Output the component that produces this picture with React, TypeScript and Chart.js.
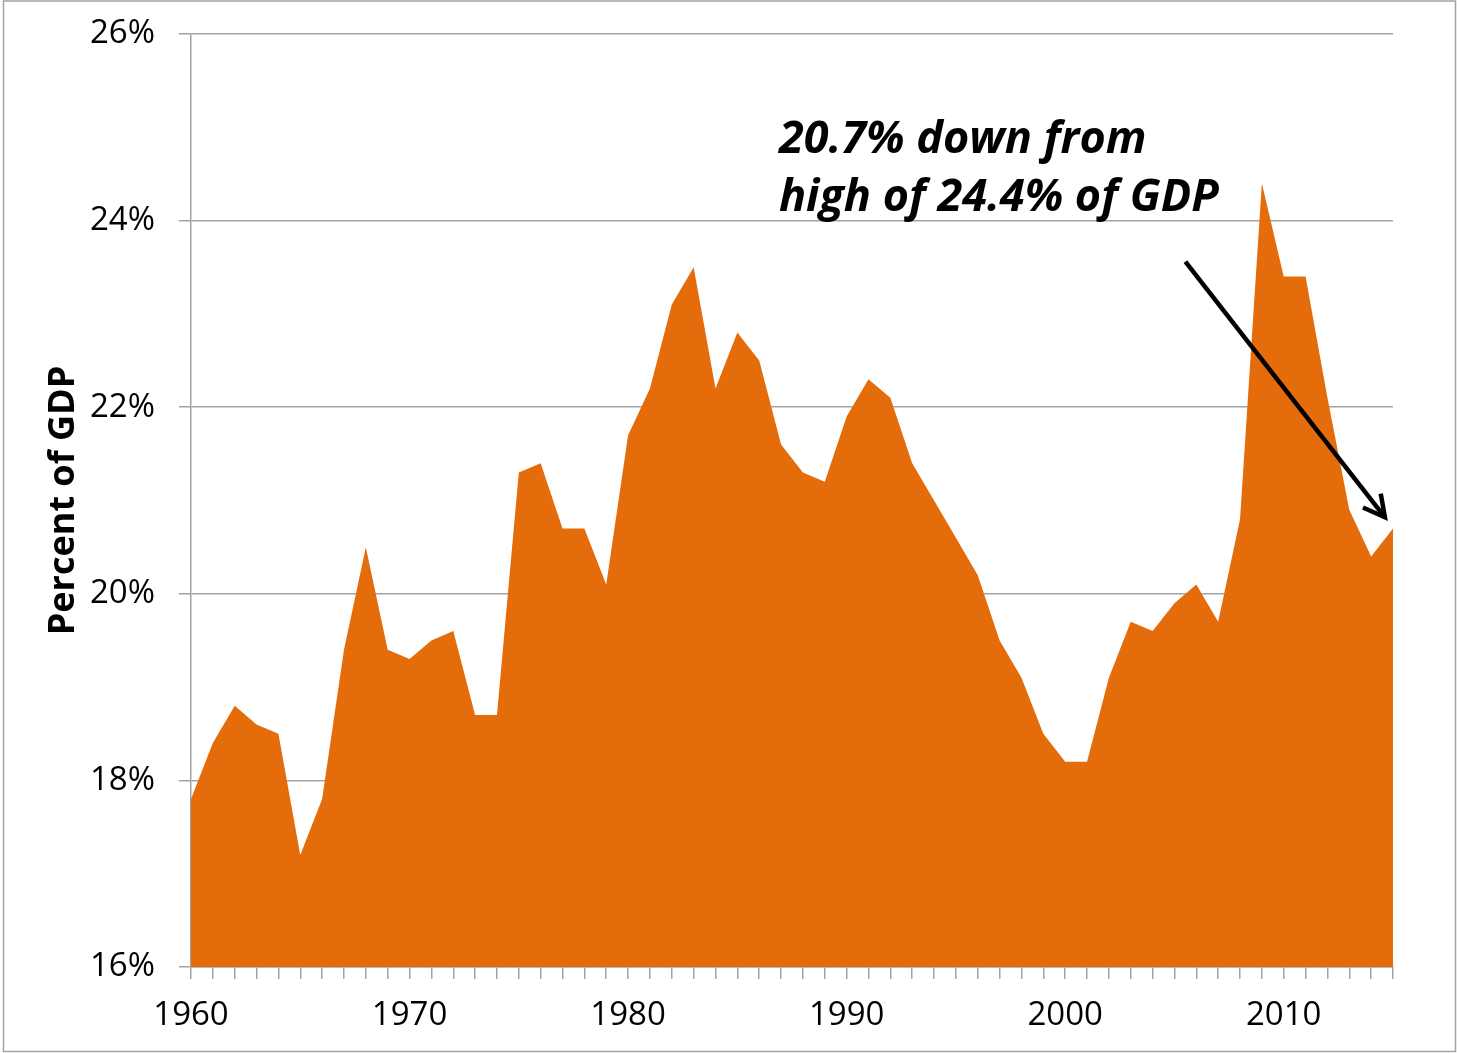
import { useEffect, useRef } from 'react';
import { Chart, registerables } from 'chart.js';

Chart.register(...registerables);

const years = [
  '1960', '1961', '1962', '1963', '1964', '1965', '1966', '1967', '1968', '1969',
  '1970', '1971', '1972', '1973', '1974', '1975', '1976', '1977', '1978', '1979',
  '1980', '1981', '1982', '1983', '1984', '1985', '1986', '1987', '1988', '1989',
  '1990', '1991', '1992', '1993', '1994', '1995', '1996', '1997', '1998', '1999',
  '2000', '2001', '2002', '2003', '2004', '2005', '2006', '2007', '2008', '2009',
  '2010', '2011', '2012', '2013', '2014', '2015',
];

const outlaysPctGdp = [
  17.8, 18.4, 18.8, 18.6, 18.5, 17.2, 17.8, 19.4, 20.5, 19.4,
  19.3, 19.5, 19.6, 18.7, 18.7, 21.3, 21.4, 20.7, 20.7, 20.1,
  21.7, 22.2, 23.1, 23.5, 22.2, 22.8, 22.5, 21.6, 21.3, 21.2,
  21.9, 22.3, 22.1, 21.4, 21.0, 20.6, 20.2, 19.5, 19.1, 18.5,
  18.2, 18.2, 19.1, 19.7, 19.6, 19.9, 20.1, 19.7, 20.8, 24.4,
  23.4, 23.4, 22.1, 20.9, 20.4, 20.7,
];

const yMin = 16;
const yMax = 26;
const yStep = 2;
const yTitle = 'Percent of GDP';

const annotationLines = ['20.7% down from', 'high of 24.4% of GDP'];
// anchors in data units: [category index, value]
const annotationTextAnchors = [
  [26.9, 24.72],
  [26.9, 24.1],
];
const arrowFrom = [45.5, 23.56];
const arrowTo = [54.63, 20.82];

const FONT = '"Open Sans", "Noto Sans", "Liberation Sans", sans-serif';
const GRAY = '#A3A3A3';
const ORANGE = '#E46C0A';

const annotationPlugin = {
  id: 'annotationPlugin',
  afterDatasetsDraw(chart: any) {
    const { ctx, scales } = chart;
    const x = scales.x;
    const y = scales.y;
    ctx.save();
    ctx.fillStyle = '#000';
    ctx.font = `italic bold 45px ${FONT}`;
    ctx.textAlign = 'left';
    ctx.textBaseline = 'alphabetic';
    annotationLines.forEach((line, i) => {
      const [ix, v] = annotationTextAnchors[i];
      ctx.fillText(line, x.getPixelForValue(ix), y.getPixelForValue(v));
    });
    const x1 = x.getPixelForValue(arrowFrom[0]);
    const y1 = y.getPixelForValue(arrowFrom[1]);
    const x2 = x.getPixelForValue(arrowTo[0]);
    const y2 = y.getPixelForValue(arrowTo[1]);
    ctx.strokeStyle = '#000';
    ctx.lineWidth = 4.5;
    ctx.beginPath();
    ctx.moveTo(x1, y1);
    ctx.lineTo(x2, y2);
    ctx.stroke();
    const ang = Math.atan2(y2 - y1, x2 - x1);
    const back = ang + Math.PI;
    const len = 24;
    const spread = (28 * Math.PI) / 180;
    ctx.lineJoin = 'miter';
    ctx.beginPath();
    ctx.moveTo(x2 + len * Math.cos(back - spread), y2 + len * Math.sin(back - spread));
    ctx.lineTo(x2, y2);
    ctx.lineTo(x2 + len * Math.cos(back + spread), y2 + len * Math.sin(back + spread));
    ctx.stroke();
    ctx.restore();
  },
  afterDraw(chart: any) {
    const { ctx, width, height } = chart;
    ctx.save();
    ctx.strokeStyle = GRAY;
    ctx.lineWidth = 1.5;
    ctx.strokeRect(3.5, 1, width - 5, height - 2.5);
    ctx.restore();
  },
};

export default function App() {
  const canvasRef = useRef<HTMLCanvasElement | null>(null);

  useEffect(() => {
    document.body.style.margin = '0';
    const canvas = canvasRef.current;
    if (!canvas) return;
    const chart = new Chart(canvas, {
      type: 'line',
      data: {
        labels: years,
        datasets: [
          {
            data: outlaysPctGdp,
            fill: 'start',
            backgroundColor: ORANGE,
            borderColor: ORANGE,
            borderWidth: 0,
            pointRadius: 0,
            tension: 0,
          },
        ],
      },
      options: {
        responsive: false,
        animation: false,
        events: [],
        layout: { padding: { left: 0, top: 34, right: 64, bottom: 0 } },
        plugins: {
          legend: { display: false },
          tooltip: { enabled: false },
        },
        scales: {
          x: {
            type: 'category',
            offset: false,
            grid: {
              drawOnChartArea: false,
              drawTicks: true,
              tickLength: 12,
              color: GRAY,
              lineWidth: 1.5,
            },
            border: { display: true, color: GRAY, width: 1.5 },
            ticks: {
              autoSkip: false,
              maxRotation: 0,
              minRotation: 0,
              padding: 17,
              color: '#000',
              font: { family: FONT, size: 33 },
              callback: (_v: any, i: number) => (Number(years[i]) % 10 === 0 ? years[i] : ''),
            },
            afterFit: (s: any) => {
              s.height = 86;
              s.paddingLeft = 0;
              s.paddingRight = 0;
            },
          },
          y: {
            min: yMin,
            max: yMax,
            grid: {
              color: GRAY,
              lineWidth: 1.5,
              drawTicks: true,
              tickLength: 12,
            },
            border: { display: true, color: GRAY, width: 1.5 },
            ticks: {
              stepSize: yStep,
              padding: 24,
              color: '#000',
              font: { family: FONT, size: 33 },
              callback: (v: any) => `${v}%`,
            },
            title: {
              display: true,
              text: yTitle,
              color: '#000',
              font: { family: FONT, size: 36, weight: 'bold' },
              padding: { top: 42, bottom: 0 },
            },
            afterFit: (s: any) => {
              s.width = 191;
              s.paddingTop = 0;
              s.paddingBottom = 0;
            },
          },
        },
      },
      plugins: [annotationPlugin],
    } as any);
    return () => chart.destroy();
  }, []);

  return (
    <div style={{ width: 1457, height: 1053, overflow: 'hidden', background: '#fff' }}>
      <canvas ref={canvasRef} width={1457} height={1053} style={{ display: 'block', width: 1457, height: 1053 }} />
    </div>
  );
}
